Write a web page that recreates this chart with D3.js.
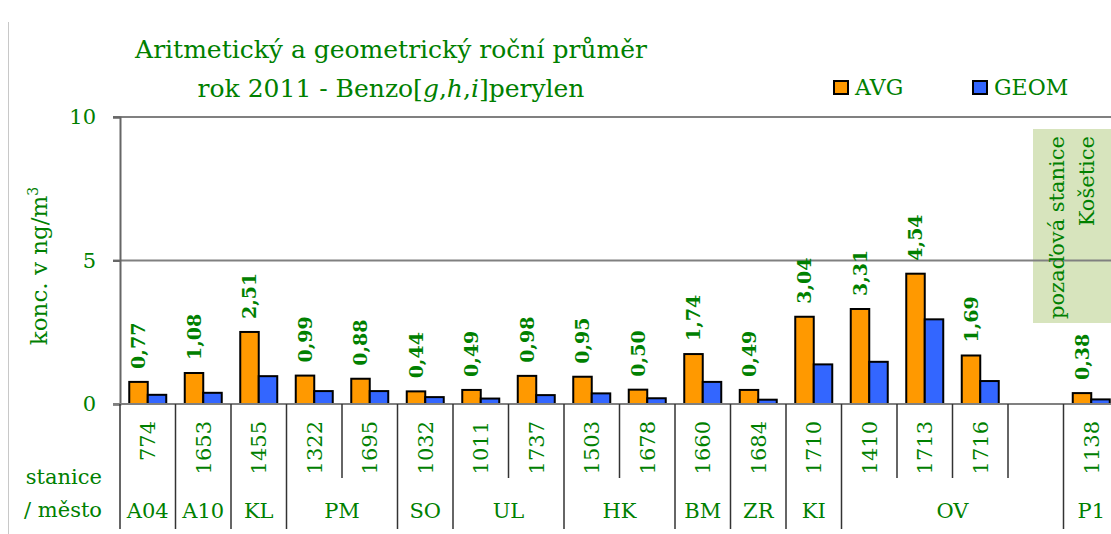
<!DOCTYPE html>
<html>
<head>
<meta charset="utf-8">
<script src="https://cdn.jsdelivr.net/npm/d3@7"></script>
<style>
  body { margin: 0; background: #fff; }
  svg text { font-family: "DejaVu Serif", "Liberation Serif", serif; fill: #008000; }
</style>
</head>
<body>
<div id="chart"></div>
<script>
"use strict";

// station codes under the bars (empty slot before Košetice)
var stations = ["774", "1653", "1455", "1322", "1695", "1032", "1011", "1737", "1503", "1678",
                "1660", "1684", "1710", "1410", "1713", "1716", "", "1138"];

// arithmetic mean per station
var avgValues = [0.77, 1.08, 2.51, 0.99, 0.88, 0.44, 0.49, 0.98, 0.95, 0.50,
                 1.74, 0.49, 3.04, 3.31, 4.54, 1.69, null, 0.38];

// geometric mean per station
var geomValues = [0.32, 0.39, 0.97, 0.45, 0.45, 0.24, 0.19, 0.31, 0.37, 0.20,
                  0.77, 0.15, 1.38, 1.47, 2.95, 0.80, null, 0.16];

// cities and how many slots each covers
var cityNames = ["A04", "A10", "KL", "PM", "SO", "UL", "HK", "BM", "ZR", "KI", "OV", "P1"];
var citySizes = [1, 1, 1, 2, 1, 2, 2, 1, 1, 1, 4, 1];

var yTicks = [0, 5, 10];
var seriesNames = ["AVG", "GEOM"];

var green = "#008000";
var colors = {AVG: "#ff9900", GEOM: "#3366ff"};

function fmt(v) {
	return v.toFixed(2).replace(".", ",");
}

function drawChart() {
	var width = 1111, height = 534;

	var svg = d3.select("#chart").append("svg")
		.attr("width", width)
		.attr("height", height);

	var x = d3.scaleBand()
		.domain(d3.range(stations.length))
		.range([120, 1119]);

	var inner = d3.scaleBand()
		.domain(seriesNames)
		.range([0, x.bandwidth()])
		.paddingOuter(0.5);

	var y = d3.scaleLinear().domain([0, 10]).range([404, 117]);

	// left frame line
	svg.append("line")
		.attr("x1", 8.5).attr("x2", 8.5)
		.attr("y1", 22).attr("y2", height)
		.attr("stroke", "#c8c8c8").attr("stroke-width", 1);

	// background station box
	svg.append("rect")
		.attr("x", 1033).attr("y", 129)
		.attr("width", 90).attr("height", 194)
		.attr("fill", "#d7e4bd");

	// grid lines
	svg.append("g").selectAll("line")
		.data(yTicks.filter(function(d) { return d > 0; }))
		.enter().append("line")
		.attr("x1", 113).attr("x2", width)
		.attr("y1", function(d) { return y(d); })
		.attr("y2", function(d) { return y(d); })
		.attr("stroke", "#808080").attr("stroke-width", 2);

	var box = svg.append("g").attr("transform", "translate(1057,136) rotate(-90)");
	box.append("text")
		.attr("text-anchor", "end")
		.attr("dy", "0.35em")
		.style("font-size", "21px")
		.text("pozaďová stanice");
	box.append("text")
		.attr("text-anchor", "end")
		.attr("y", 30)
		.attr("dy", "0.35em")
		.style("font-size", "21px")
		.text("Košetice");

	// y axis
	var yAxis = svg.append("g")
		.attr("transform", "translate(120,0)")
		.call(d3.axisLeft(y).tickValues(yTicks).tickSize(7).tickPadding(17));
	yAxis.select(".domain").attr("stroke", "#666").attr("stroke-width", 2);
	yAxis.selectAll(".tick line").attr("stroke", "#666").attr("stroke-width", 2);
	yAxis.selectAll(".tick text")
		.style("font-size", "21px")
		.style("font-family", "DejaVu Serif, serif")
		.attr("fill", green);

	svg.append("text")
		.attr("transform", "translate(39,266) rotate(-90)")
		.attr("text-anchor", "middle")
		.attr("dy", "0.35em")
		.style("font-size", "23px")
		.html("konc. v ng/m<tspan dy='-9' style='font-size:14px'>3</tspan>");

	// bars
	var slot = svg.append("g").selectAll(".slot")
		.data(stations.map(function(s, i) {
			return {i: i, station: s, values: [
				{key: "AVG", value: avgValues[i]},
				{key: "GEOM", value: geomValues[i]}
			]};
		}))
		.enter().append("g")
		.attr("class", "slot")
		.attr("transform", function(d) { return "translate(" + x(d.i) + ",0)"; });

	slot.selectAll("rect")
		.data(function(d) { return d.values.filter(function(v) { return v.value != null; }); })
		.enter().append("rect")
		.attr("x", function(d) { return inner(d.key); })
		.attr("y", function(d) { return y(d.value); })
		.attr("width", inner.bandwidth())
		.attr("height", function(d) { return y(0) - y(d.value); })
		.attr("fill", function(d) { return colors[d.key]; })
		.attr("stroke", "#000").attr("stroke-width", 2);

	// value labels above AVG bars
	slot.filter(function(d) { return avgValues[d.i] != null; })
		.append("text")
		.attr("transform", function(d) {
			return "translate(" + (inner("AVG") + inner.bandwidth() / 2) + "," + (y(avgValues[d.i]) - 13) + ") rotate(-90)";
		})
		.attr("dy", "0.35em")
		.style("font-size", "19px")
		.style("font-weight", "bold")
		.text(function(d) { return fmt(avgValues[d.i]); });

	// station codes
	slot.append("text")
		.attr("transform", "translate(" + (x.bandwidth() / 2) + ",421) rotate(-90)")
		.attr("text-anchor", "end")
		.attr("dy", "0.35em")
		.style("font-size", "21px")
		.text(function(d) { return d.station; });

	// baseline
	svg.append("line")
		.attr("x1", 113).attr("x2", width)
		.attr("y1", y(0)).attr("y2", y(0))
		.attr("stroke", "#808080").attr("stroke-width", 2);

	// separators, long ones between cities
	var cityStart = [];
	var acc = 0;
	citySizes.forEach(function(n) { cityStart.push(acc); acc += n; });

	var seps = d3.range(stations.length + 1).map(function(i) {
		return {i: i, long: cityStart.indexOf(i) >= 0 || i == stations.length};
	});
	svg.append("g").selectAll("line")
		.data(seps)
		.enter().append("line")
		.attr("x1", function(d) { return x(0) + d.i * x.step(); })
		.attr("x2", function(d) { return x(0) + d.i * x.step(); })
		.attr("y1", y(0))
		.attr("y2", function(d) { return d.long ? 529 : 478; })
		.attr("stroke", "#333").attr("stroke-width", 1.5);

	// city names
	svg.append("g").selectAll("text")
		.data(cityNames)
		.enter().append("text")
		.attr("x", function(d, i) { return x(0) + (cityStart[i] + citySizes[i] / 2) * x.step(); })
		.attr("y", 518)
		.attr("text-anchor", "middle")
		.style("font-size", "21px")
		.text(function(d) { return d; });

	svg.append("text")
		.attr("x", 102).attr("y", 484)
		.attr("text-anchor", "end")
		.style("font-size", "21px")
		.text("stanice");
	svg.append("text")
		.attr("x", 102).attr("y", 517)
		.attr("text-anchor", "end")
		.style("font-size", "21px")
		.text("/ město");

	// title
	svg.append("text")
		.attr("x", 391).attr("y", 58)
		.attr("text-anchor", "middle")
		.style("font-size", "25px")
		.text("Aritmetický a geometrický roční průměr");
	svg.append("text")
		.attr("x", 391).attr("y", 97)
		.attr("text-anchor", "middle")
		.style("font-size", "25px")
		.html("rok 2011 - Benzo[<tspan font-style='italic'>g</tspan>,<tspan font-style='italic'>h</tspan>,<tspan font-style='italic'>i</tspan>]perylen");

	// legend
	var legend = svg.append("g").selectAll("g")
		.data(seriesNames)
		.enter().append("g")
		.attr("transform", function(d, i) { return "translate(" + (834 + i * 139) + ",81)"; });
	legend.append("rect")
		.attr("width", 14).attr("height", 13)
		.attr("fill", function(d) { return colors[d]; })
		.attr("stroke", "#000").attr("stroke-width", 2);
	legend.append("text")
		.attr("x", 21).attr("y", 14)
		.style("font-size", "22px")
		.text(function(d) { return d; });
}

drawChart();
</script>
</body>
</html>
